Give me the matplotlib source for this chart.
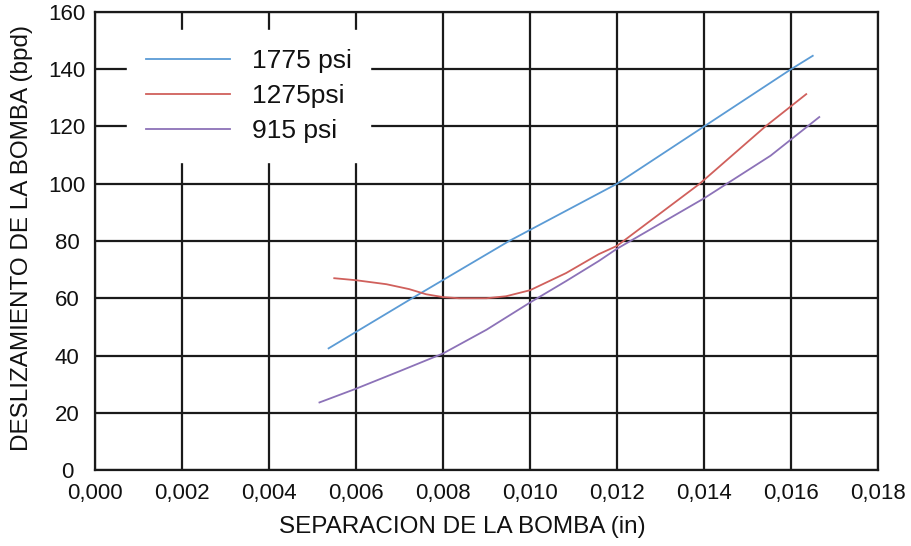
import matplotlib
matplotlib.use("Agg")
import matplotlib.pyplot as plt

plt.rcParams['font.family'] = ['Liberation Sans', 'DejaVu Sans']

# Data
x_1775 = [0.00537, 0.00729, 0.00952, 0.0120, 0.0140, 0.0160, 0.0165]
y_1775 = [42.5, 60.0, 80.0, 100.0, 120.0, 140.0, 144.7]

x_1275 = [0.0055, 0.0060, 0.0067, 0.00722, 0.00761, 0.0080, 0.00837, 0.0090,
          0.00945, 0.0100, 0.01083, 0.01158, 0.0120, 0.0139, 0.01541, 0.01635]
y_1275 = [67.0, 66.3, 64.9, 63.2, 61.4, 60.4, 60.0, 60.0,
          60.7, 62.8, 68.8, 75.4, 78.3, 100.0, 120.0, 131.3]

x_915 = [0.00516, 0.0060, 0.0070, 0.0080, 0.0090, 0.0100, 0.01083, 0.01158,
         0.0120, 0.0140, 0.01553, 0.01665]
y_915 = [23.6, 28.4, 34.5, 40.7, 49.0, 58.5, 66.0, 73.0,
         77.3, 94.9, 109.8, 123.3]

series_labels = ['1775 psi', '1275psi', '915 psi']
series_colors = ['#5b9bd5', '#d0605c', '#8c72b8']

x_ticks = [0.000, 0.002, 0.004, 0.006, 0.008, 0.010, 0.012, 0.014, 0.016, 0.018]
x_tick_labels = ['0,000', '0,002', '0,004', '0,006', '0,008', '0,010',
                 '0,012', '0,014', '0,016', '0,018']
y_ticks = [0, 20, 40, 60, 80, 100, 120, 140, 160]

fig = plt.figure(figsize=(9.11, 5.46), dpi=100)
ax = fig.add_axes([95/911, 1 - 470/546, (878-95)/911, (470-12)/546])

for xs, ys, lab, col in zip([x_1775, x_1275, x_915], [y_1775, y_1275, y_915],
                            series_labels, series_colors):
    ax.plot(xs, ys, color=col, linewidth=1.3, label=lab, zorder=3)

ax.set_xlim(0, 0.018)
ax.set_ylim(0, 160)
ax.set_xticks(x_ticks)
ax.set_xticklabels(x_tick_labels)
ax.set_yticks(y_ticks)
ax.set_axisbelow(True)
ax.grid(True, color='#1a1a1a', linewidth=1.6)
for s in ax.spines.values():
    s.set_color('#1a1a1a')
    s.set_linewidth(1.6)

ax.tick_params(axis='both', length=0, labelsize=16, labelcolor='#111111')
ax.tick_params(axis='x', pad=9)
ax.tick_params(axis='y', pad=20)
for t in ax.get_yticklabels():
    t.set_horizontalalignment('center')

fig.text(462/911, 1 - 527/546, 'SEPARACION DE LA BOMBA (in)', ha='center',
         va='center', fontsize=17.5, color='#111111')
fig.text(22/911, 1 - 238/546, 'DESLIZAMIENTO DE LA BOMBA (bpd)', ha='center',
         va='center', rotation=90, fontsize=17.5, color='#111111')

leg = ax.legend(loc='upper left', bbox_to_anchor=(127/911, 1 - 30/546),
                bbox_transform=fig.transFigure, borderaxespad=0,
                fontsize=19, handlelength=3.2, handletextpad=0.8,
                labelspacing=0.42, borderpad=0.72, fancybox=False,
                framealpha=1, facecolor='white', edgecolor='white')
for t in leg.get_texts():
    t.set_color('#111111')

fig.savefig('out.png', dpi=100)
